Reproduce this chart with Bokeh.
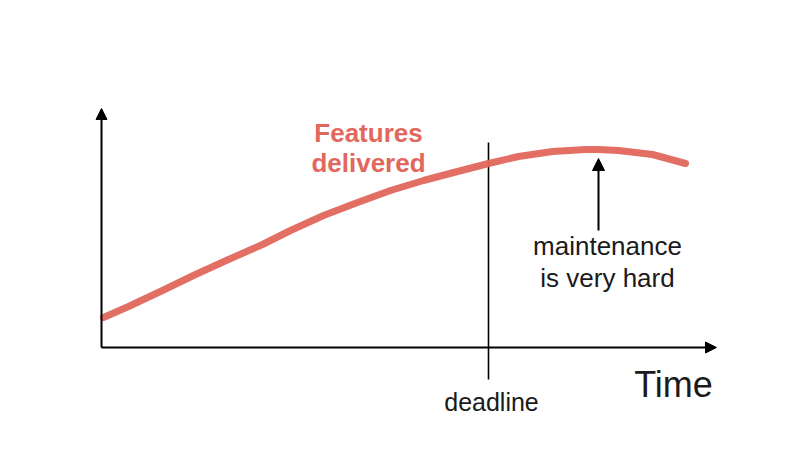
from bokeh.plotting import figure
from bokeh.models import Range1d, Arrow, NormalHead, ColumnDataSource
from bokeh.core.properties import value
from bokeh.embed import file_html
from bokeh.resources import INLINE

# ---- data (time units, feature units) ----
time = [2, 27, 61, 94, 127, 161, 189, 222, 256, 289, 322, 356, 387,
        417, 451, 484, 497, 517, 551, 584]
features = [30, 41, 57, 73, 88, 103, 117, 132, 145, 157, 167, 176, 184,
            191, 196, 198, 198, 197, 193, 184]
deadline_time = 387
peak_time = 497
x_axis_end = 615
y_axis_end = 239

RED = "#e2675c"
INK = "#1a1a1a"
FONT = "Liberation Sans"

p = figure(width=800, height=474, output_backend="svg", toolbar_location=None,
           x_range=Range1d(-101, 699), y_range=Range1d(-127, 347),
           x_axis_location=None, y_axis_location=None, min_border=0)
p.grid.visible = False
p.outline_line_color = None
p.background_fill_color = "white"
p.border_fill_color = "white"

# axes as arrows
p.add_layout(Arrow(end=NormalHead(size=11, fill_color="black", line_color="black", line_width=1),
                   x_start=0, y_start=0, x_end=x_axis_end, y_end=0,
                   line_width=2, line_color="black"))
p.add_layout(Arrow(end=NormalHead(size=11, fill_color="black", line_color="black", line_width=1),
                   x_start=0, y_start=0, x_end=0, y_end=y_axis_end,
                   line_width=2, line_color="black"))

# deadline line
p.segment(x0=[deadline_time], y0=[-32], x1=[deadline_time], y1=[205],
          line_color="black", line_width=1.6)

# features curve
src = ColumnDataSource(dict(t=time, f=features))
p.line("t", "f", source=src, line_color=RED, line_width=7, line_alpha=0.95,
       line_cap="round", line_join="round")

# annotation arrow to the peak
p.add_layout(Arrow(end=NormalHead(size=12, fill_color="black", line_color="black", line_width=1),
                   x_start=peak_time, y_start=117, x_end=peak_time, y_end=189,
                   line_width=2, line_color="black"))

# texts
p.text(x=[267, 267], y=[215, 185], text=["Features", "delivered"],
       text_font=value(FONT), text_font_style="bold", text_font_size="26px",
       text_color=RED, text_align="center", text_baseline="alphabetic")
p.text(x=[506, 506], y=[102, 70], text=["maintenance", "is very hard"],
       text_font=value(FONT), text_font_size="26px",
       text_color=INK, text_align="center", text_baseline="alphabetic")
p.text(x=[390], y=[-54], text=["deadline"],
       text_font=value(FONT), text_font_size="25px",
       text_color=INK, text_align="center", text_baseline="alphabetic")
p.text(x=[572], y=[-37], text=["Time"],
       text_font=value(FONT), text_font_size="36px",
       text_color=INK, text_align="center", text_baseline="alphabetic")

open("out.html", "w").write(file_html(p, INLINE))
